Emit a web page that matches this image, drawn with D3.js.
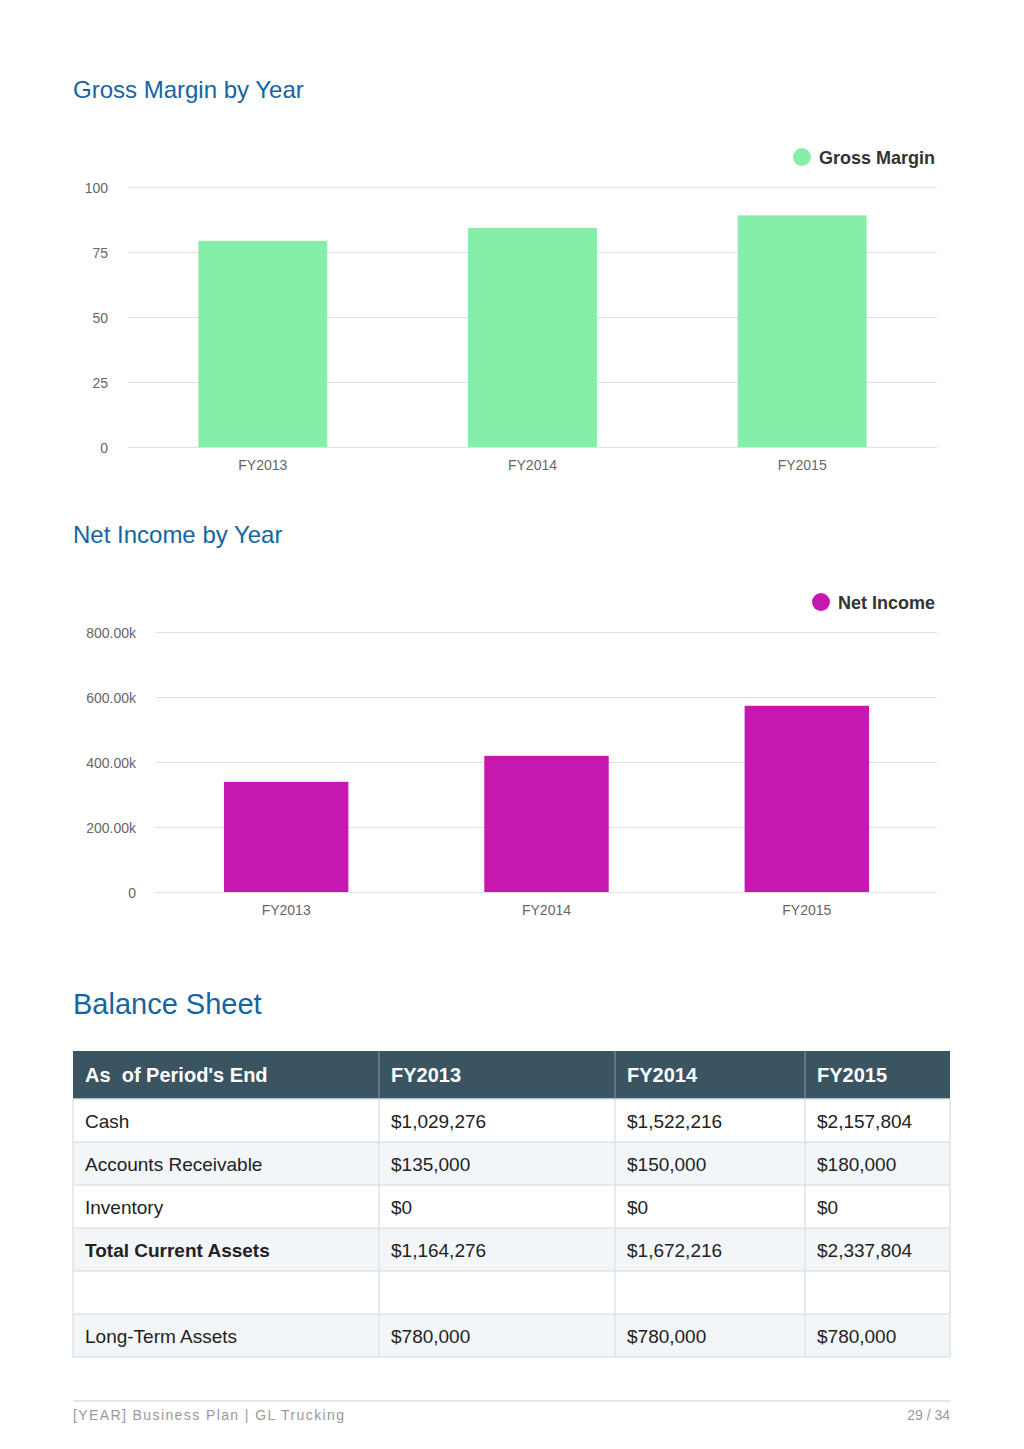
<!DOCTYPE html>
<html><head><meta charset="utf-8">
<script src="https://cdn.jsdelivr.net/npm/d3@7"></script>
<style>
html,body{margin:0;padding:0;background:#fff;}
svg{display:block;font-family:"Liberation Sans",Arial,Helvetica,sans-serif;}
</style></head>
<body>
<svg id="page" width="1024" height="1449"></svg>
<script>
// ---- data ----
const years = ["FY2013", "FY2014", "FY2015"];
const grossMargin = [79.3, 84.3, 89.1];
const gmTicks = [0, 25, 50, 75, 100];
const netIncome = [339000, 419000, 573000];
const niTicks = [0, 200000, 400000, 600000, 800000];
const niTickLabels = ["0", "200.00k", "400.00k", "600.00k", "800.00k"];
const tableHeader = ["As  of Period's End", "FY2013", "FY2014", "FY2015"];
const rowLabels = ["Cash", "Accounts Receivable", "Inventory", "Total Current Assets", "", "Long-Term Assets"];
const rowValues = [
  ["$1,029,276", "$1,522,216", "$2,157,804"],
  ["$135,000", "$150,000", "$180,000"],
  ["$0", "$0", "$0"],
  ["$1,164,276", "$1,672,216", "$2,337,804"],
  ["", "", ""],
  ["$780,000", "$780,000", "$780,000"]
];
const boldRows = [3];

const svg = d3.select("#page");
const titleColor = "#1565a0";

function barChart(cfg) {
  const g = svg.append("g");
  g.append("text").attr("x", 73).attr("y", cfg.titleY).attr("fill", titleColor)
    .attr("font-size", 24).text(cfg.title);
  const x = d3.scaleBand().domain(years).range([cfg.x0, cfg.x1]).paddingInner(0.522).paddingOuter(0.261);
  const y = d3.scaleLinear().domain([0, cfg.max]).range([cfg.yBottom, cfg.yTop]);
  const yAxis = d3.axisLeft(y).tickValues(cfg.ticks).tickSize(-(cfg.x1 - cfg.x0)).tickFormat((d, i) => cfg.tickLabels[i]);
  const ag = g.append("g").attr("transform", `translate(${cfg.x0},0)`).call(yAxis);
  ag.select(".domain").remove();
  ag.selectAll(".tick line").attr("stroke", "#e0e0e0").attr("stroke-width", 1);
  ag.selectAll(".tick text").attr("x", -20).attr("dy", "0.4em").attr("fill", "#666").attr("font-size", 14)
    .attr("font-family", "Liberation Sans, Arial, sans-serif");
  g.selectAll("rect.bar").data(cfg.values).join("rect").attr("class", "bar")
    .attr("x", (d, i) => x(years[i])).attr("width", x.bandwidth())
    .attr("y", d => y(d)).attr("height", d => y(0) - y(d)).attr("fill", cfg.color);
  const xAxis = d3.axisBottom(x).tickSize(0).tickPadding(13);
  const xg = g.append("g").attr("transform", `translate(0,${cfg.yBottom})`).call(xAxis);
  xg.select(".domain").remove();
  xg.selectAll(".tick text").attr("fill", "#666").attr("font-size", 14)
    .attr("font-family", "Liberation Sans, Arial, sans-serif");
  const lg = g.append("g");
  const lt = lg.append("text").attr("x", 935).attr("y", cfg.legendY + 6.5).attr("text-anchor", "end")
    .attr("font-size", 18).attr("font-weight", "bold").attr("fill", "#333").text(cfg.series);
  const w = lt.node().getComputedTextLength();
  lg.append("circle").attr("cx", 935 - w - 17).attr("cy", cfg.legendY).attr("r", 9).attr("fill", cfg.color);
}

barChart({title: "Gross Margin by Year", titleY: 98, series: "Gross Margin", legendY: 157,
  x0: 128, x1: 937, yTop: 187, yBottom: 447, max: 100, ticks: gmTicks, tickLabels: gmTicks.map(String),
  values: grossMargin, color: "#85efa9"});

barChart({title: "Net Income by Year", titleY: 543, series: "Net Income", legendY: 602,
  x0: 156, x1: 937, yTop: 632, yBottom: 892, max: 800000, ticks: niTicks, tickLabels: niTickLabels,
  values: netIncome, color: "#c618b0"});

svg.append("text").attr("x", 73).attr("y", 1014).attr("fill", titleColor).attr("font-size", 29).text("Balance Sheet");

const colX = [73, 379, 615, 805, 950];
const headerTop = 1051, headerH = 48, rowH = 43;
const tg = svg.append("g");
tg.append("rect").attr("x", colX[0]).attr("y", headerTop).attr("width", colX[4] - colX[0]).attr("height", headerH).attr("fill", "#3b5462");
tableHeader.forEach((h, i) => {
  tg.append("text").attr("x", colX[i] + 12).attr("y", headerTop + headerH / 2 + 7)
    .attr("fill", "#fff").attr("font-size", 20).attr("font-weight", "bold")
    .style("white-space", "pre").text(h);
});
rowLabels.forEach((lab, r) => {
  const yT = headerTop + headerH + r * rowH;
  tg.append("rect").attr("x", colX[0]).attr("y", yT).attr("width", colX[4] - colX[0]).attr("height", rowH)
    .attr("fill", r % 2 === 1 ? "#f3f6f9" : "#ffffff");
  const cells = [lab].concat(rowValues[r]);
  cells.forEach((c, i) => {
    tg.append("text").attr("x", colX[i] + 12).attr("y", yT + rowH / 2 + 7)
      .attr("fill", "#222").attr("font-size", 19)
      .attr("font-weight", (i === 0 && boldRows.includes(r)) ? "bold" : "normal").text(c);
  });
});
const tableBottom = headerTop + headerH + rowLabels.length * rowH;
for (let r = 0; r <= rowLabels.length; r++) {
  const yy = headerTop + headerH + r * rowH;
  tg.append("line").attr("x1", colX[0]).attr("x2", colX[4]).attr("y1", yy).attr("y2", yy)
    .attr("stroke", "#dde3e8").attr("stroke-width", 1.5);
}
colX.forEach((cx, i) => {
  tg.append("line").attr("x1", cx).attr("x2", cx).attr("y1", headerTop + headerH).attr("y2", tableBottom)
    .attr("stroke", "#dde3e8").attr("stroke-width", 1.5);
  if (i > 0 && i < colX.length - 1) {
    tg.append("line").attr("x1", cx).attr("x2", cx).attr("y1", headerTop).attr("y2", headerTop + headerH)
      .attr("stroke", "#8a9aa5").attr("stroke-width", 1);
  }
});

svg.append("line").attr("x1", 73).attr("x2", 950).attr("y1", 1401).attr("y2", 1401).attr("stroke", "#e6e6e6").attr("stroke-width", 2);
svg.append("text").attr("x", 73).attr("y", 1420).attr("fill", "#999").attr("font-size", 14)
  .attr("letter-spacing", 1.4).text("[YEAR] Business Plan | GL Trucking");
svg.append("text").attr("x", 950).attr("y", 1420).attr("fill", "#999").attr("font-size", 14)
  .attr("text-anchor", "end").text("29 / 34");
</script>
</body></html>
